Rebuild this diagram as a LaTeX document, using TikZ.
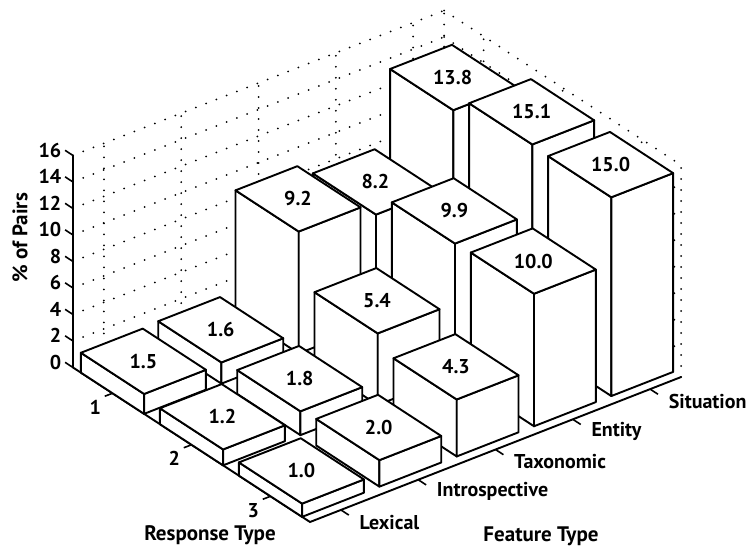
\documentclass[tikz,border=0pt]{standalone}
\usepackage{fontspec}
\setmainfont{PT Sans}
\usepackage{tikz}
\usetikzlibrary{positioning,calc}

\begin{document}
\begin{tikzpicture}[x={(77.3pt,30.2pt)},y={(79pt,-51.5pt)},z={(0pt,13.25pt)},
        every node/.style={font=\bfseries\fontsize{20}{20}\selectfont},
        title/.style={font=\bfseries\fontsize{21}{21}\selectfont},
        barface/.style={draw,fill=white,line width=1.9pt,line join=round},
        axisline/.style={line width=1.9pt,line cap=round},
        tickline/.style={line width=1.6pt},
        gridline/.style={line width=2pt,dash pattern=on 0pt off 11pt,line cap=round}]
   \useasboundingbox (-73pt,-178.5pt) rectangle (673pt,367.5pt);

   \foreach \h in {2,4,...,16} {
      \draw[gridline] (0,0,\h) -- (4.8,0,\h);
      \draw[gridline] (4.8,0,\h) -- (4.8,3,\h);
   }
   \foreach \f in {0.4,1.4,2.4,3.4,4.4,4.8}
      \draw[gridline] (\f,0,0) -- (\f,0,16);
   \foreach \r in {0.5,1.5,2.5,3}
      \draw[gridline] (4.8,\r,0) -- (4.8,\r,16);

   \draw[axisline] (0,0,16) -- (0,0,0) -- (0,3,0) -- (4.8,3,0);
   \foreach \h in {0,2,...,16}
      \draw[tickline] (0,0,\h) -- (0,-0.1,\h) node[anchor=east,inner sep=3pt] (ytick\h) {\h};
   \foreach \r/\name in {0/1,1/2,2/3}
      \draw[tickline] (0,\r+0.5,0) -- (-0.1,\r+0.5,0) node[anchor=north east,inner sep=3pt] (rtick\name) {\name};
   \foreach \f/\name in {0/Lexical,1/Introspective,2/Taxonomic,3/Entity,4/Situation}
      \draw[tickline] (\f+0.4,3,0) -- (\f+0.4,3.1,0) node[anchor=west,inner sep=0pt,xshift=10pt,yshift=-7pt] (ftick\f) {\name};

   \foreach \f/\r/\v in {4/0/13.8,4/1/15.1,4/2/15.0,
                         3/0/8.2,3/1/9.9,3/2/10.0,
                         2/0/9.2,2/1/5.4,2/2/4.3,
                         1/0/1.6,1/1/1.8,1/2/2.0,
                         0/0/1.5,0/1/1.2,0/2/1.0} {
      \pgfmathsetmacro\fa{\f}
      \pgfmathsetmacro\fb{\f+0.8}
      \pgfmathsetmacro\ra{\r+0.1}
      \pgfmathsetmacro\rb{\r+0.9}
      \draw[barface] (\fa,\ra,0) -- (\fa,\rb,0) -- (\fa,\rb,\v) -- (\fa,\ra,\v) -- cycle;
      \draw[barface] (\fa,\rb,0) -- (\fb,\rb,0) -- (\fb,\rb,\v) -- (\fa,\rb,\v) -- cycle;
      \draw[barface] (\fa,\ra,\v) -- (\fb,\ra,\v) -- (\fb,\rb,\v) -- (\fa,\rb,\v) -- cycle;
      \node (bar\f\r) at (\f+0.4,\r+0.5,\v) {\v};
   }

   \node[title,rotate=90] (pairs) at (-53pt,129.5pt) {\% of Pairs};
   \node[title] (resp) at (137pt,-167.5pt) {Response Type};
   \node[title] (feat) at (468pt,-168.5pt) {Feature Type};
\end{tikzpicture}
\end{document}
